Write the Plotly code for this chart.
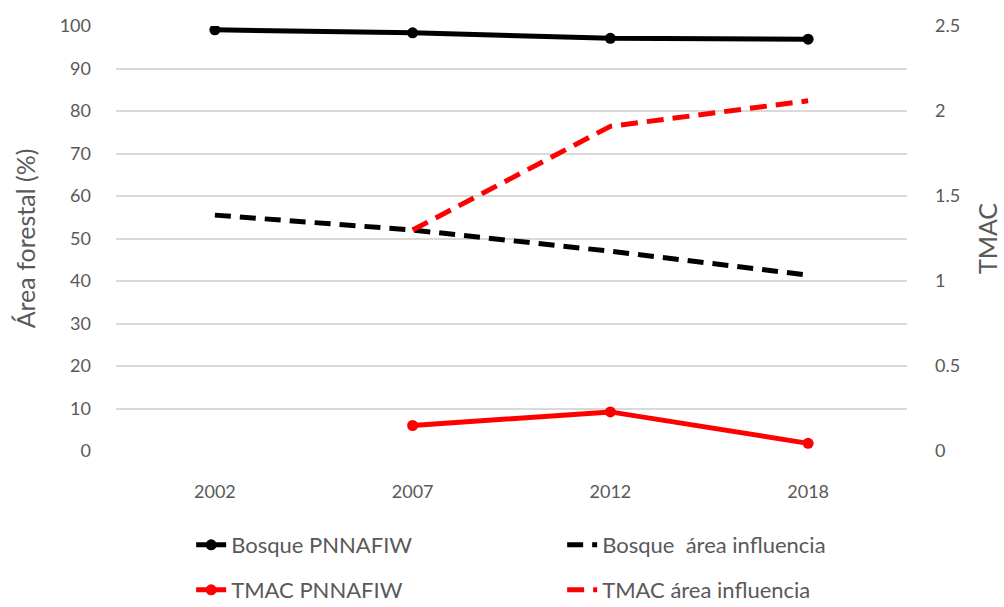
import plotly.graph_objects as go

years = ["2002", "2007", "2012", "2018"]
bosque_pnn = [99.1, 98.4, 97.1, 96.9]
bosque_area = [55.5, 52.0, 47.0, 41.4]
tmac_years = ["2007", "2012", "2018"]
tmac_pnn = [0.15, 0.23, 0.045]
tmac_area = [1.30, 1.91, 2.06]

FONT = "Lato"
GREY = "#595959"
RED = "#ff0000"

fig = go.Figure()

fig.add_trace(go.Scatter(
    x=years, y=bosque_pnn, name="Bosque PNNAFIW", mode="lines+markers",
    line=dict(color="black", width=5), marker=dict(size=11, color="black"),
    legend="legend"))
fig.add_trace(go.Scatter(
    x=years, y=bosque_area, name="Bosque  área influencia", mode="lines",
    line=dict(color="black", width=5, dash="16px,9px"),
    legend="legend"))
fig.add_trace(go.Scatter(
    x=tmac_years, y=tmac_pnn, name="TMAC PNNAFIW", mode="lines+markers",
    line=dict(color=RED, width=5), marker=dict(size=11, color=RED),
    yaxis="y2", legend="legend2"))
fig.add_trace(go.Scatter(
    x=tmac_years, y=tmac_area, name="TMAC área influencia", mode="lines",
    line=dict(color=RED, width=5, dash="17px,9px"),
    yaxis="y2", legend="legend2"))

legend_common = dict(
    orientation="h", xref="paper", xanchor="left", x=0.095,
    yref="container", yanchor="middle",
    font=dict(family=FONT, size=22, color=GREY),
    entrywidth=326, entrywidthmode="pixels", bgcolor="rgba(0,0,0,0)")

fig.update_layout(
    width=1004, height=607,
    margin=dict(l=116, r=97, t=26, b=156, autoexpand=False),
    paper_bgcolor="white", plot_bgcolor="white",
    font=dict(family=FONT, size=17, color=GREY),
    xaxis=dict(
        type="category", range=[-0.5, 3.5], showgrid=False, zeroline=False,
        showline=False, ticks="", ticklabelstandoff=28,
        tickfont=dict(family=FONT, size=18, color=GREY)),
    yaxis=dict(
        range=[0, 100], dtick=10, showgrid=True, gridcolor="#d9d9d9", gridwidth=1.5,
        zeroline=False, showline=False, ticks="", ticklabelstandoff=24,
        tickfont=dict(family=FONT, size=18, color=GREY),
        title=dict(text="Área forestal (%)", standoff=16,
                   font=dict(family=FONT, size=25, color=GREY))),
    yaxis2=dict(
        range=[0, 2.5], dtick=0.5, overlaying="y", side="right", showgrid=False,
        zeroline=False, showline=False, ticks="", ticklabelstandoff=27,
        tickfont=dict(family=FONT, size=18, color=GREY),
        title=dict(text="TMAC", standoff=20,
                   font=dict(family=FONT, size=25, color=GREY))),
    legend=dict(y=1 - 545 / 607, **legend_common),
    legend2=dict(y=1 - 590 / 607, **legend_common),
)

fig.write_html("out.html")
